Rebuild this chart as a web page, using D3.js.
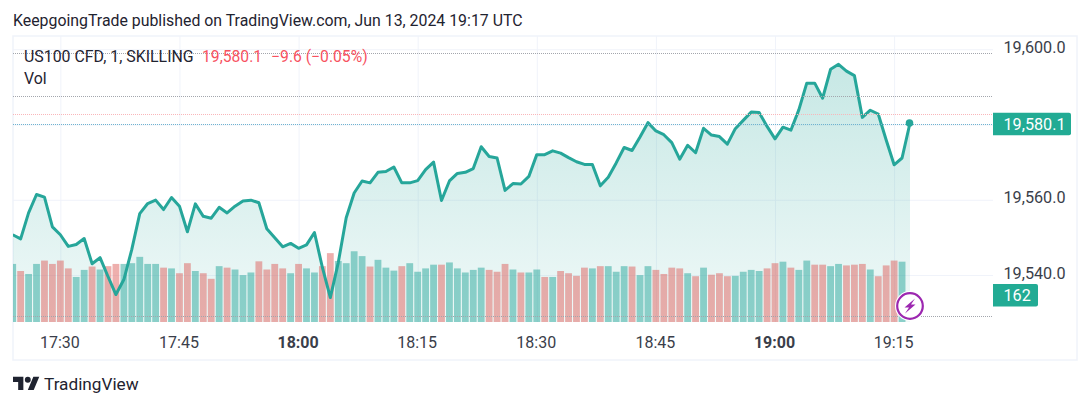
<!DOCTYPE html>
<html>
<head>
<meta charset="utf-8">
<script src="https://d3js.org/d3.v7.min.js"></script>
<style>
  html, body { margin: 0; padding: 0; background: #fff; }
  svg { display: block; font-family: Roboto, sans-serif; }
</style>
</head>
<body>
<svg id="chart" width="1090" height="407"></svg>
<script>
// one price per minute, 17:24 to 19:17
var firstMinute = "17:24";
var prices = [
  19550.7, 19549.6, 19556.5, 19561.4, 19560.7, 19552.8, 19550.7, 19547.6, 19548.1, 19549.7,
  19543.0, 19544.6, 19539.6, 19534.8, 19538.8, 19546.8, 19556.3, 19559.0, 19559.9, 19557.4,
  19560.6, 19558.3, 19551.5, 19558.9, 19555.6, 19555.1, 19558.0, 19556.5, 19558.3, 19559.7,
  19559.9, 19559.2, 19552.3, 19549.9, 19547.5, 19548.4, 19547.1, 19548.0, 19551.3, 19542.0,
  19534.0, 19543.3, 19555.2, 19561.8, 19565.0, 19564.5, 19567.3, 19567.5, 19568.7, 19564.5,
  19564.5, 19565.1, 19568.0, 19570.0, 19559.8, 19565.0, 19567.0, 19567.3, 19568.3, 19574.1,
  19571.5, 19571.1, 19562.5, 19564.3, 19564.2, 19566.2, 19572.0, 19572.0, 19573.0, 19572.4,
  19571.2, 19570.1, 19569.4, 19569.4, 19563.7, 19566.0, 19569.8, 19573.9, 19573.1, 19576.7,
  19580.5, 19578.3, 19577.3, 19575.2, 19570.8, 19574.5, 19572.5, 19579.0, 19577.2, 19576.8,
  19574.8, 19578.9, 19581.1, 19583.3, 19583.2, 19579.5, 19576.2, 19579.3, 19578.5, 19583.9,
  19591.0, 19591.0, 19587.0, 19594.7, 19596.0, 19594.2, 19593.0, 19581.9, 19583.8, 19582.8,
  19575.9, 19569.3, 19571.1, 19580.4
];
var volumes = [
  156, 137, 129, 156, 165, 156, 165, 144, 121, 140,
  149, 141, 150, 156, 156, 158, 175, 156, 156, 146,
  144, 131, 158, 137, 131, 116, 150, 146, 141, 126,
  133, 163, 141, 156, 144, 131, 156, 144, 133, 150,
  185, 164, 158, 190, 177, 149, 167, 146, 138, 150,
  158, 135, 144, 154, 154, 160, 144, 133, 140, 146,
  140, 135, 156, 141, 133, 133, 141, 121, 121, 137,
  131, 124, 146, 144, 150, 150, 135, 150, 149, 126,
  150, 140, 129, 146, 144, 131, 123, 146, 127, 131,
  123, 124, 135, 140, 137, 144, 158, 162, 146, 140,
  165, 154, 154, 150, 156, 152, 154, 156, 141, 123,
  152, 165, 162
];
// 1 = up bar (green), 0 = down bar (red)
var volumeUp = [
  1, 0, 1, 1, 0, 0, 0, 0, 1, 1,
  0, 1, 0, 0, 1, 1, 1, 1, 1, 0,
  1, 0, 0, 1, 0, 0, 1, 0, 1, 1,
  1, 0, 0, 0, 0, 1, 0, 1, 1, 0,
  0, 1, 1, 1, 1, 0, 1, 1, 1, 0,
  1, 1, 1, 1, 0, 1, 1, 1, 1, 1,
  0, 0, 0, 1, 0, 1, 1, 0, 1, 0,
  0, 0, 0, 1, 0, 1, 1, 1, 0, 1,
  1, 0, 0, 0, 0, 1, 0, 1, 0, 0,
  0, 1, 1, 1, 1, 0, 0, 1, 0, 1,
  1, 0, 0, 1, 1, 0, 0, 0, 1, 0,
  0, 0, 1
];
var timeTicks = ["17:30", "17:45", "18:00", "18:15", "18:30", "18:45", "19:00", "19:15"];
var boldTicks = ["18:00", "19:00"];
var priceTicks = [19540, 19560, 19580, 19600];
var priceLabels = [19540, 19560, 19600];
var lastPrice = 19580.1;
var lastVolume = 162;
// dotted level lines: grey levels and the pink one
var greyLevels = [19598.8, 19587.4, 19529.0];
var pinkLevel = 19582.8;

var titleText = "KeepgoingTrade published on TradingView.com, Jun 13, 2024 19:17 UTC";
var teal = "#26a69a";
var red = "#f7525f";
var gridColor = "#f0f3fa";
var textColor = "#1f2330";
var axisColor = "#3a3e4a";

function toMinutes(label) {
  var p = label.split(":");
  return +p[0] * 60 + +p[1];
}

var svg = d3.select("#chart");
var start = toMinutes(firstMinute);
var plot = { left: 13, right: 993, top: 36, bottom: 322 };

var x = d3.scaleLinear()
  .domain([start, start + prices.length - 1])
  .range([12.7, 910]);
var y = d3.scaleLinear().domain([19540, 19600]).range([275, 49.3]);
var yVol = d3.scaleLinear().domain([0, 162]).range([322, 261.7]);

var fmtPrice = d3.format(",.1f");

var defs = svg.append("defs");
defs.append("clipPath").attr("id", "plotClip").append("rect")
  .attr("x", plot.left).attr("y", plot.top)
  .attr("width", plot.right - plot.left).attr("height", plot.bottom - plot.top);

var grad = defs.append("linearGradient").attr("id", "areaFill")
  .attr("gradientUnits", "userSpaceOnUse")
  .attr("x1", 0).attr("x2", 0).attr("y1", 36).attr("y2", 322);
grad.append("stop").attr("offset", "0%").attr("stop-color", "#26a69a").attr("stop-opacity", 0.28);
grad.append("stop").attr("offset", "100%").attr("stop-color", "#26a69a").attr("stop-opacity", 0.07);

// title
svg.append("text").attr("x", 13).attr("y", 26)
  .attr("font-size", 15.87).attr("fill", textColor).text(titleText);

// frame
svg.append("rect")
  .attr("x", 13).attr("y", 36)
  .attr("width", 1064).attr("height", 324)
  .attr("fill", "none").attr("stroke", gridColor).attr("stroke-width", 1.5);

// grid and axes
var xAxis = d3.axisBottom(x)
  .tickValues(timeTicks.map(toMinutes))
  .tickSize(plot.top - plot.bottom)
  .tickPadding(0)
  .tickFormat(function(d) {
    return timeTicks.find(function(t) { return toMinutes(t) === d; });
  });
var gx = svg.append("g").attr("transform", "translate(0," + plot.bottom + ")").call(xAxis);
gx.select(".domain").remove();
gx.selectAll(".tick line").attr("stroke", gridColor).attr("stroke-width", 1);
gx.selectAll(".tick text")
  .attr("x", -1)
  .attr("y", 26).attr("dy", 0)
  .attr("font-family", "Roboto, sans-serif")
  .attr("font-size", 16).attr("fill", axisColor)
  .attr("font-weight", function(d) {
    var lab = timeTicks.find(function(t) { return toMinutes(t) === d; });
    return boldTicks.indexOf(lab) >= 0 ? 700 : 400;
  });

var yGrid = d3.axisRight(y).tickValues(priceTicks)
  .tickSize(plot.right - plot.left).tickFormat("");
var gy = svg.append("g").attr("transform", "translate(" + plot.left + ",0)").call(yGrid);
gy.select(".domain").remove();
gy.selectAll(".tick line").attr("stroke", gridColor).attr("stroke-width", 1);

var yAxis = d3.axisRight(y).tickValues(priceLabels).tickSize(0).tickPadding(0).tickFormat(fmtPrice);
var gyLab = svg.append("g").attr("transform", "translate(1003.5,-2)").call(yAxis);
gyLab.select(".domain").remove();
gyLab.selectAll(".tick text")
  .attr("font-family", "Roboto, sans-serif")
  .attr("font-size", 16.2).attr("fill", axisColor);

var chart = svg.append("g").attr("clip-path", "url(#plotClip)");

// area under the line
var area = d3.area()
  .x(function(d, i) { return x(start + i); })
  .y0(plot.bottom)
  .y1(function(d) { return y(d); });
chart.append("path").datum(prices).attr("d", area).attr("fill", "url(#areaFill)");

// volume bars
chart.selectAll("rect.vol").data(volumes).enter().append("rect")
  .attr("class", "vol")
  .attr("x", function(d, i) { return x(start + i) - 3.4; })
  .attr("width", 6.8)
  .attr("y", function(d) { return yVol(d); })
  .attr("height", function(d) { return yVol(0) - yVol(d); })
  .attr("fill", function(d, i) { return volumeUp[i] ? "#26a69a" : "#dd5f5c"; })
  .attr("fill-opacity", 0.5);

// dotted levels
function level(value, color) {
  svg.append("line")
    .attr("x1", plot.left).attr("x2", plot.right)
    .attr("y1", Math.floor(y(value)) + 0.5).attr("y2", Math.floor(y(value)) + 0.5)
    .attr("stroke", color).attr("stroke-width", 1)
    .attr("stroke-dasharray", "1 1");
}
greyLevels.forEach(function(v) { level(v, "#a3a6ad"); });
level(pinkLevel, "#f9b6ba");
level(lastPrice, "#6fb3d0");

// price line
var line = d3.line()
  .x(function(d, i) { return x(start + i); })
  .y(function(d) { return y(d); });
chart.append("path").datum(prices).attr("d", line)
  .attr("fill", "none").attr("stroke", teal).attr("stroke-width", 3)
  .attr("stroke-linejoin", "round");

svg.append("circle")
  .attr("cx", x(start + prices.length - 1) - 0.5)
  .attr("cy", y(prices[prices.length - 1]))
  .attr("r", 3.8).attr("fill", teal);

// legend
svg.append("text").attr("x", 24).attr("y", 61.5)
  .attr("font-size", 15.9).attr("fill", textColor).text("US100 CFD, 1, SKILLING");
var legendVals = svg.append("text").attr("x", 202).attr("y", 61.5)
  .attr("font-size", 15.7).attr("fill", red);
legendVals.append("tspan").text(fmtPrice(lastPrice));
legendVals.append("tspan").attr("dx", 9).text("\u22129.6 (\u22120.05%)");
svg.append("text").attr("x", 24).attr("y", 84)
  .attr("font-size", 15.9).attr("fill", textColor).text("Vol");

// last value labels on the axis
function axisLabel(top, w, h, label) {
  svg.append("path")
    .attr("d", "M993," + top + "h" + (w - 2) + "a2,2 0 0 1 2,2v" + (h - 4) + "a2,2 0 0 1 -2,2h" + (2 - w) + "z")
    .attr("fill", "#22ab94");
  svg.append("text").attr("x", 1003.5).attr("y", top + h / 2 + 5.5)
    .attr("font-size", 16.2).attr("fill", "#fff").text(label);
}
axisLabel(112.7, 78, 22.6, fmtPrice(lastPrice));
axisLabel(284, 45, 22.6, String(lastVolume));

// lightning badge
var badge = svg.append("g").attr("transform", "translate(910,306)");
badge.append("circle").attr("r", 15).attr("fill", "#fff");
badge.append("circle").attr("r", 12.8).attr("fill", "#fff")
  .attr("stroke", "#9c27b0").attr("stroke-width", 2.2);
badge.append("path")
  .attr("d", "M5,-7.5 L-5.5,1.5 L-1,1.5 L-5,7.5 L5.5,-1.5 L1,-1.5 Z")
  .attr("fill", "#9c27b0");

// TradingView logo
var logo = svg.append("g").attr("transform", "translate(13,373.8) scale(0.74)").attr("fill", textColor);
logo.append("path").attr("d", "M14 22H7V11H0V4h14v18zM28 22h-8l7.5-18h8L28 22z");
logo.append("circle").attr("cx", 20).attr("cy", 8).attr("r", 4);
svg.append("text").attr("x", 44).attr("y", 390)
  .attr("font-size", 17.2).attr("fill", textColor).text("TradingView");
</script>
</body>
</html>
